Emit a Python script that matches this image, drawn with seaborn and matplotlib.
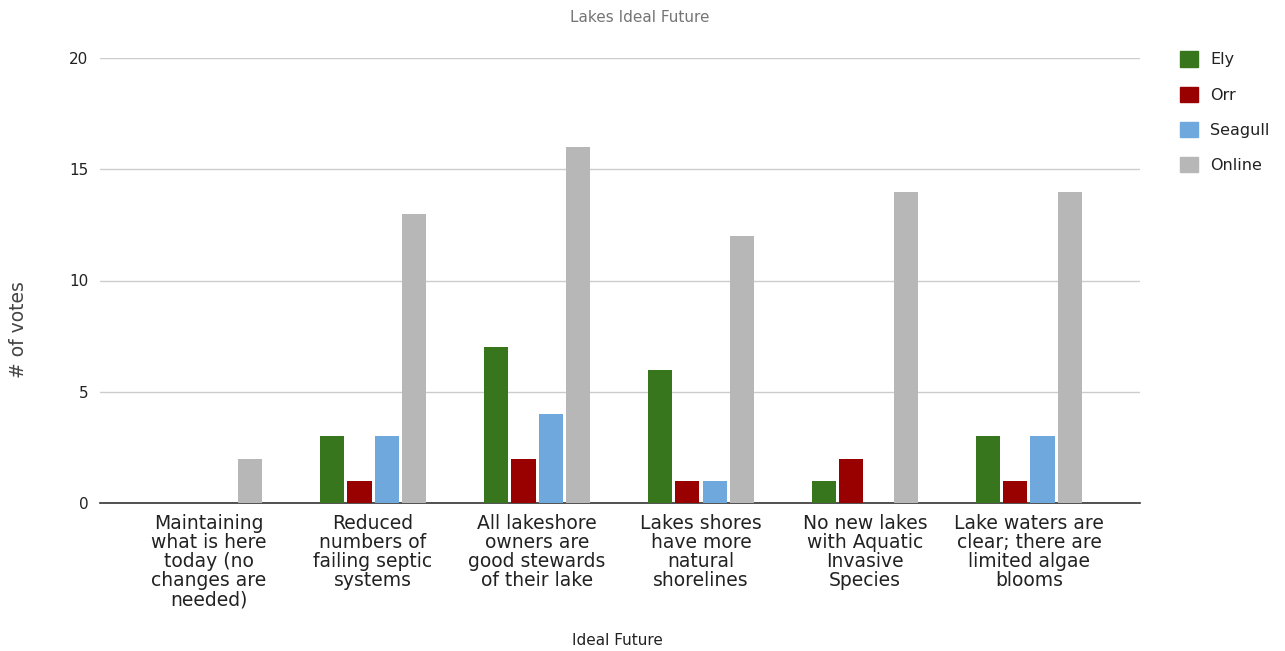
import pandas as pd
import matplotlib.pyplot as plt
import seaborn as sns

# Chart data
futures = [
    "Maintaining\nwhat is here\ntoday (no\nchanges are\nneeded)",
    "Reduced\nnumbers of\nfailing septic\nsystems",
    "All lakeshore\nowners are\ngood stewards\nof their lake",
    "Lakes shores\nhave more\nnatural\nshorelines",
    "No new lakes\nwith Aquatic\nInvasive\nSpecies",
    "Lake waters are\nclear; there are\nlimited algae\nblooms",
]
locations = ["Ely", "Orr", "Seagull", "Online"]
ely = [0, 3, 7, 6, 1, 3]
orr = [0, 1, 2, 1, 2, 1]
seagull = [0, 3, 4, 1, 0, 3]
online = [2, 13, 16, 12, 14, 14]

colors = ["#38761d", "#990000", "#6fa8dc", "#b7b7b7"]

rows = []
for loc, vals in zip(locations, [ely, orr, seagull, online]):
    for fut, v in zip(futures, vals):
        rows.append({"Ideal Future": fut, "Location": loc, "votes": v})
df = pd.DataFrame(rows)

sns.set_theme(style="white")
plt.rcParams["font.family"] = ["DejaVu Sans"]

fig = plt.figure(figsize=(12.85, 6.51), dpi=100)
ax = fig.add_axes([100 / 1285, 148 / 651, 1040 / 1285, 445 / 651])

sns.barplot(
    data=df,
    x="Ideal Future",
    y="votes",
    hue="Location",
    hue_order=locations,
    order=futures,
    palette=colors,
    width=0.67,
    gap=0.11,
    saturation=1,
    linewidth=0,
    ax=ax,
    legend=False,
    zorder=3
)

ax.set_ylim(0, 20)
ax.set_xlim(-0.665, 5.677)
ax.set_yticks([0, 5, 10, 15, 20])
ax.yaxis.grid(True, color="#cccccc", linewidth=1, zorder=0)
ax.set_axisbelow(True)

for side in ["top", "right", "left"]:
    ax.spines[side].set_visible(False)
ax.spines["bottom"].set_color("#333333")
ax.spines["bottom"].set_linewidth(1.2)

ax.tick_params(axis="y", length=0, pad=8.5, labelsize=11, labelcolor="#222222")
ax.tick_params(axis="x", length=0, pad=8, labelsize=13.5, labelcolor="#222222")
for lbl in ax.get_xticklabels():
    lbl.set_linespacing(1.0)
    lbl.set_verticalalignment("top")

ax.set_xlabel("Ideal Future", fontsize=11, color="#222222")
ax.xaxis.set_label_coords((617 - 100) / 1040, -(633 - 503) / 445)
ax.set_ylabel("# of votes", fontsize=13.5, color="#444444")
ax.yaxis.set_label_coords(-72 / 1040, (503 - 330) / 445)

fig.text(640 / 1285, 1 - 17 / 651, "Lakes Ideal Future", ha="center", va="center",
         fontsize=11, color="#757575")

# Legend on the right
handles = [plt.Rectangle((0, 0), 1, 1, color=c) for c in colors]
fig.legend(
    handles,
    locations,
    loc="upper left",
    bbox_to_anchor=(1166 / 1285, 1 - 37 / 651),
    frameon=False,
    fontsize=11.5,
    handlelength=1.1,
    handleheight=1.1,
    labelspacing=1.2,
    handletextpad=0.75,
    labelcolor="#222222"
)

fig.savefig("out.png", dpi=100)
